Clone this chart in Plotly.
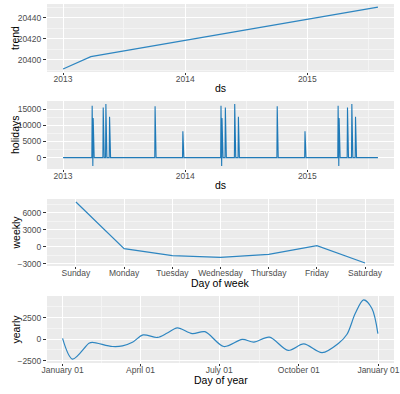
import pandas as pd
import plotly.graph_objects as go

# ---------------- data ----------------
trend_dates = ["2013-01-01", "2013-03-25", "2015-07-31"]
trend_values = [20391.4, 20403.1, 20450.2]

series_start = "2013-01-01"
series_end = "2015-07-31"
holiday_dates = [
    "2013-03-29", "2013-03-31", "2013-04-01", "2013-05-01", "2013-05-09", "2013-05-20", "2013-10-03", "2013-12-25",
    "2014-04-18", "2014-04-20", "2014-04-21", "2014-05-01", "2014-05-29", "2014-06-09", "2014-10-03", "2014-12-25",
    "2015-04-03", "2015-04-05", "2015-04-06", "2015-05-01", "2015-05-14", "2015-05-25",
]
holiday_values = [
    16100, -2570, 12240, 15500, 16600, 12700, 15900, 8200,
    16100, -2570, 12240, 15500, 16600, 12700, 15900, 8200,
    16100, -2570, 12240, 15500, 16600, 12700,
]

weekdays = ["Sunday", "Monday", "Tuesday", "Wednesday", "Thursday", "Friday", "Saturday"]
weekly_values = [7877, -350, -1580, -1880, -1370, 175, -2880]

yearly_days = [0, 11.5, 30.5, 34.4, 57.7, 69.2, 80.7, 93, 109.5, 121, 132.6, 149.9, 164.5,
               186.4, 207.6, 221, 239, 260.7, 278.7, 299.9, 319, 328.7, 338.3, 347.9, 357.5, 364.4]
yearly_values = [80, -2330, -480, -370, -860, -790, -370, 490, 190, 700, 1310, 640, 860,
                 -860, -40, -340, 220, -1310, -560, -1570, -480, 560, 2990, 4560, 3550, 640]

year_ticks = ["2013", "2014", "2015"]
doy_tick_dates = ["2017-01-01", "2017-04-01", "2017-07-01", "2017-10-01", "2018-01-01"]
doy_tick_labels = ["January 01", "April 01", "July 01", "October 01", "January 01"]

# ---------------- derived ----------------
days = pd.date_range(series_start, series_end, freq="D")
hol = pd.Series(0.0, index=days)
for d, v in zip(holiday_dates, holiday_values):
    hol[pd.Timestamp(d)] = v

year_base = pd.Timestamp("2017-01-01")
yearly_x = [year_base + pd.Timedelta(days=float(d)) for d in yearly_days]

LINE = "#2E86C1"
PANEL = "#EBEBEB"
FONT = "Liberation Sans, Arial, sans-serif"

fig = go.Figure()
fig.add_trace(go.Scatter(x=trend_dates, y=trend_values, mode="lines",
                         line=dict(color=LINE, width=1.2), xaxis="x", yaxis="y"))
fig.add_trace(go.Scatter(x=hol.index, y=hol.values, mode="lines",
                         line=dict(color="#1F7AB8", width=1.1), xaxis="x2", yaxis="y2"))
fig.add_trace(go.Scatter(x=weekdays, y=weekly_values, mode="lines",
                         line=dict(color=LINE, width=1.2), xaxis="x3", yaxis="y3"))
fig.add_trace(go.Scatter(x=yearly_x, y=yearly_values, mode="lines",
                         line=dict(color=LINE, width=1.2, shape="spline", smoothing=0.9),
                         xaxis="x4", yaxis="y4"))

H = 394.0
W = 400.0
xdom = [47 / W, 394 / W]


def ydom(top, bottom):
    return [1 - bottom / H, 1 - top / H]


tickfont = dict(family=FONT, size=8.5, color="#4D4D4D")
common_axis = dict(showgrid=True, gridcolor="white", gridwidth=1, zeroline=False,
                   ticks="outside", ticklen=3, tickcolor="#333333", tickwidth=1,
                   tickfont=tickfont, showline=False, domain=xdom, automargin=False)
x_extra = dict(ticklen=2, ticklabelstandoff=-3)


def minor(vals):
    return dict(showgrid=True, gridcolor="#F4F4F4", gridwidth=0.6, tickvals=vals, ticks="")


date_range = ["2012-11-14", "2015-09-17"]
year_minor = ["2012-07-02", "2013-07-02", "2014-07-02", "2015-07-02"]

layout = dict(
    width=400, height=394,
    margin=dict(l=0, r=0, t=0, b=0),
    paper_bgcolor="white", plot_bgcolor=PANEL,
    showlegend=False,
    font=dict(family=FONT),
    xaxis=dict(common_axis, **x_extra, anchor="y", type="date", range=date_range,
               tickmode="array", tickvals=[t + "-01-01" for t in year_ticks], ticktext=year_ticks,
               minor=minor(year_minor)),
    yaxis=dict(common_axis, domain=ydom(4, 72), anchor="x", range=[20388.5, 20453.1],
               tickmode="array", tickvals=[20400, 20420, 20440], tickformat="d",
               minor=minor([20390, 20410, 20430, 20450])),
    xaxis2=dict(common_axis, **x_extra, anchor="y2", type="date", range=date_range,
                tickmode="array", tickvals=[t + "-01-01" for t in year_ticks], ticktext=year_ticks,
                minor=minor(year_minor)),
    yaxis2=dict(common_axis, domain=ydom(101, 169), anchor="x2", range=[-3530, 17550],
                tickmode="array", tickvals=[0, 5000, 10000, 15000], tickformat="d",
                minor=minor([2500, 7500, 12500])),
    xaxis3=dict(common_axis, **x_extra, anchor="y3", type="category", range=[-0.6, 6.6]),
    yaxis3=dict(common_axis, domain=ydom(199, 266), anchor="x3", range=[-3418, 8415],
                tickmode="array", tickvals=[-3000, 0, 3000, 6000], tickformat="d",
                minor=minor([-1500, 1500, 4500, 7500])),
    xaxis4=dict(common_axis, **x_extra, anchor="y4", type="date", range=["2016-12-14", "2018-01-19"],
                tickmode="array", tickvals=doy_tick_dates, ticktext=doy_tick_labels,
                minor=minor(["2017-02-15", "2017-05-16", "2017-08-16", "2017-11-16"])),
    yaxis4=dict(common_axis, domain=ydom(296, 363), anchor="x4", range=[-2775, 5005],
                tickmode="array", tickvals=[-2500, 0, 2500], tickformat="d",
                minor=minor([-1250, 1250, 3750])),
)
fig.update_layout(**layout)

titlefont = dict(family=FONT, size=10.5, color="black")
ann = []
for txt, yc in [("trend", 38), ("holidays", 135), ("weekly", 232.5), ("yearly", 329.5)]:
    ann.append(dict(text=txt, x=15 / W, y=1 - yc / H, xref="paper", yref="paper",
                    textangle=-90, showarrow=False, font=titlefont,
                    xanchor="center", yanchor="middle"))
for txt, yc in [("ds", 88), ("ds", 185), ("Day of week", 283), ("Day of year", 380)]:
    ann.append(dict(text=txt, x=220.5 / W, y=1 - yc / H, xref="paper", yref="paper",
                    showarrow=False, font=titlefont, xanchor="center", yanchor="middle"))
fig.update_layout(annotations=ann)

fig.write_html("out.html", config={"displayModeBar": False},
               post_script="document.body.style.margin='0px';document.body.style.overflow='hidden';")
